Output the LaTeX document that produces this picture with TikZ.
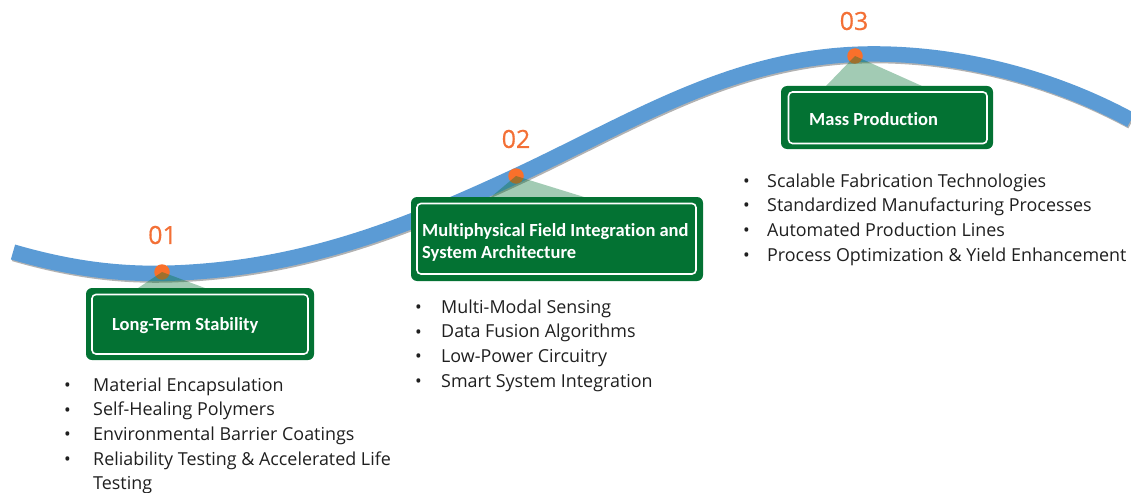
\documentclass[tikz,border=0pt]{standalone}
\usepackage{fontspec}
\setmainfont{Open Sans}
\newfontfamily\boxfont[Ligatures={NoCommon}]{Carlito}
\newfontfamily\numfont[FakeBold=0.5]{Open Sans}
\usetikzlibrary{positioning}
\definecolor{wave}{HTML}{5B9BD5}
\definecolor{boxgreen}{HTML}{037233}
\definecolor{dotorange}{HTML}{F9702B}
\definecolor{numorange}{HTML}{F37036}
\definecolor{listtext}{HTML}{1F1F1F}
\tikzset{
  wavepath/.style={line width=15.5pt,line cap=butt},
  outerbox/.style={draw=none,fill=boxgreen,rounded corners=6pt,inner sep=0pt},
  innerbox/.style={draw=white,line width=1.6pt,fill=none,rounded corners=4pt},
  boxlabel/.style={font=\boxfont\bfseries\fontsize{18.5}{22}\selectfont,text=white,align=left,anchor=west,inner sep=0pt},
  num/.style={font=\numfont\fontsize{25}{25}\selectfont,text=numorange,inner sep=0pt},
  dotmark/.style={circle,fill=dotorange,minimum size=15.5pt,inner sep=0pt},
  beam/.style={fill=boxgreen,fill opacity=0.37,draw=none},
  bullets/.style={font=\fontsize{17.9}{24.6}\selectfont,text=listtext,anchor=north west,inner sep=0pt,align=left},
  bulletmark/.style={font=\fontsize{17.9}{24.6}\selectfont,text=listtext,anchor=north west,inner sep=0pt,align=left}
}
\begin{document}
\begin{tikzpicture}[x=1pt,y=-1pt]
\useasboundingbox (0,0) rectangle (1131,492);
\def\wavecurve{(13,252) .. controls (75,270) and (125,275) .. (175,273)
  .. controls (300,268) and (400,230) .. (516,176)
  .. controls (640,118) and (740,52) .. (880,54)
  .. controls (960,55) and (1050,76) .. (1131,120)}
\draw[wavepath,color=gray!60,shift={(1,1.6)}] \wavecurve;
\draw[wavepath,color=wave] \wavecurve;
\node[dotmark] (d1) at (162,272) {};
\node[dotmark] (d2) at (516,176) {};
\node[dotmark] (d3) at (855,56) {};
\node[num] (n1) at (162.5,235) {01};
\node[num] (n2) at (516,139) {02};
\node[num] (n3) at (854,21) {03};
\path[outerbox] (86,288) rectangle (314,360);
\path[outerbox] (411,197) rectangle (703,281);
\path[outerbox] (781,86) rectangle (993,149);
\coordinate (b1t) at (162,272);
\coordinate (b2t) at (516,176);
\coordinate (b3t) at (855,56);
\fill[beam] (b1t) -- (205,288) -- (138,288) -- cycle;
\fill[beam] (b2t) -- (584,197) -- (491,197) -- cycle;
\fill[beam] (b3t) -- (922,86) -- (826,86) -- cycle;
\draw[innerbox] (92,294.5) rectangle (308,354);
\draw[innerbox] (417,203.5) rectangle (696,274);
\draw[innerbox] (788.5,92) rectangle (987,143.5);
\node[boxlabel] (t1) at (112,326) {Long-Term Stability};
\node[boxlabel] (t2) at (422,242) {Multiphysical Field Integration and\\System Architecture};
\node[boxlabel] (t3) at (809,119) {Mass Production};
\node[bullets] (l1) at (93,377.5) {Material Encapsulation\\Self-Healing Polymers\\Environmental Barrier Coatings\\Reliability Testing \& Accelerated Life\\Testing};
\node[bulletmark] (m1) at (64,382.5) {•\\•\\•\\•};
\node[bullets] (l2) at (441,299.5) {Multi-Modal Sensing\\Data Fusion Algorithms\\Low-Power Circuitry\\Smart System Integration};
\node[bulletmark] (m2) at (415,304.5) {•\\•\\•\\•};
\node[bullets] (l3) at (767,173.5) {Scalable Fabrication Technologies\\Standardized Manufacturing Processes\\Automated Production Lines\\Process Optimization \& Yield Enhancement};
\node[bulletmark] (m3) at (743,178.5) {•\\•\\•\\•};
\end{tikzpicture}
\end{document}
